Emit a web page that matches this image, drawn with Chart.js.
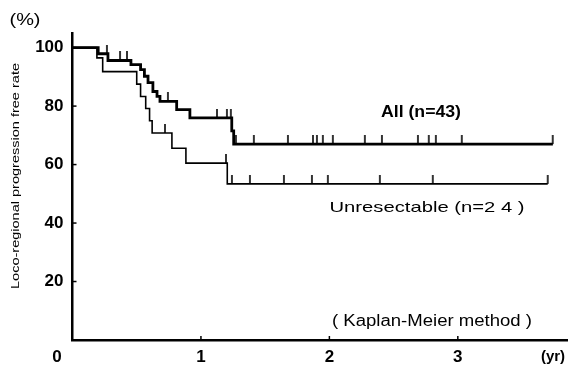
<!DOCTYPE html>
<html>
<head>
<meta charset="utf-8">
<script src="https://cdn.jsdelivr.net/npm/chart.js@4.4.0/dist/chart.umd.min.js"></script>
<style>
  html, body { margin: 0; padding: 0; background: #fff; }
</style>
</head>
<body>
<canvas id="myChart" width="584" height="371"></canvas>
<script>
// All patients (n=43): step times (yr) and rate after each step (%)
var allTimes = [0, 0.2, 0.276, 0.455, 0.53, 0.56, 0.588, 0.626, 0.658, 0.681, 0.811, 0.914, 1.24, 1.255, 3.74];
var allRate  = [100, 97.9, 95.6, 94.2, 92.5, 90.2, 88.0, 85.0, 83.3, 81.6, 78.8, 76.0, 71.5, 67.0, 67.0];
var allCensored = [0.268, 0.37, 0.424, 0.743, 1.125, 1.202, 1.233, 1.272, 1.412, 1.677, 1.872, 1.903,
                   1.949, 2.027, 2.276, 2.409, 2.689, 2.774, 2.829, 3.031, 3.739];

// Unresectable (n=24)
var unresTimes = [0, 0.19, 0.235, 0.5, 0.53, 0.57, 0.6, 0.62, 0.774, 0.883, 1.205, 3.70];
var unresRate  = [100, 96.5, 91.8, 87.5, 83.3, 79.2, 75.0, 70.8, 65.6, 60.5, 53.4, 53.4];
var unresCensored = [0.72, 1.195, 1.241, 1.381, 1.646, 1.864, 1.988, 2.393, 2.805, 3.70];

var xTicks = [1, 2, 3];
var yTicks = [20, 40, 60, 80, 100];

var fam = '"Liberation Sans", Arial, Helvetica, sans-serif';

function toPoints(ts, vs) {
    return ts.map(function (t, i) { return { x: t, y: vs[i] }; });
}
// value of the step curve at time t
function rateAt(ts, vs, t) {
    var v = vs[0];
    for (var i = 0; i < ts.length; i++) {
        if (ts[i] <= t) v = vs[i];
    }
    return v;
}
function censorPoints(cs, ts, vs) {
    return cs.map(function (t) { return { x: t, y: rateAt(ts, vs, t) }; });
}

// small upward tick used for censored cases
var tick = document.createElement('canvas');
tick.width = 4;
tick.height = 18;
var tctx = tick.getContext('2d');
tctx.strokeStyle = '#000';
tctx.lineWidth = 1.6;
tctx.beginPath();
tctx.moveTo(2, 0);
tctx.lineTo(2, 9);
tctx.stroke();

function fitText(c, text, cx, cy, w, font, rot) {
    c.save();
    c.font = font;
    c.textAlign = 'center';
    c.textBaseline = 'middle';
    c.translate(cx, cy);
    if (rot) c.rotate(rot);
    var m = c.measureText(text).width;
    if (w) c.scale(w / m, 1);
    c.fillText(text, 0, 0);
    c.restore();
}

var extras = {
    id: 'extras',
    afterDraw: function (chart) {
        var c = chart.ctx;
        var xs = chart.scales.x, ys = chart.scales.y;
        c.save();
        c.strokeStyle = '#000';
        c.fillStyle = '#000';
        c.lineWidth = 1.5;
        // inward tick marks
        yTicks.forEach(function (v) {
            var p = ys.getPixelForValue(v);
            c.beginPath(); c.moveTo(xs.left, p); c.lineTo(xs.left + 4, p); c.stroke();
        });
        xTicks.forEach(function (v) {
            var p = xs.getPixelForValue(v);
            c.beginPath(); c.moveTo(p, ys.bottom); c.lineTo(p, ys.bottom - 4); c.stroke();
        });
        c.restore();

        fitText(c, '(%)', 25, 20, 31, '17px ' + fam);
        fitText(c, 'Loco-regional progression free rate', 16, 176, 226, '11px ' + fam, -Math.PI / 2);
        fitText(c, 'All (n=43)', 421, 113, 80, 'bold 16px ' + fam);
        fitText(c, 'Unresectable (n=2 4 )', 427, 208, 195, '15px ' + fam);
        fitText(c, '( Kaplan-Meier method )', 432, 322, 200, '16px ' + fam);
        fitText(c, '0', 57, 357, 0, 'bold 17px ' + fam);
        fitText(c, '(yr)', 553, 357, 0, 'bold 15px ' + fam);
    }
};

var ctx = document.getElementById('myChart').getContext('2d');
var myChart = new Chart(ctx, {
    type: 'line',
    data: {
        datasets: [{
            label: 'All (n=43)',
            data: toPoints(allTimes, allRate),
            stepped: 'before',
            borderColor: '#000',
            borderWidth: 2.8,
            pointRadius: 0
        }, {
            label: 'Unresectable (n=24)',
            data: toPoints(unresTimes, unresRate),
            stepped: 'before',
            borderColor: '#000',
            borderWidth: 1.6,
            pointRadius: 0
        }, {
            label: 'All censored',
            data: censorPoints(allCensored, allTimes, allRate),
            showLine: false,
            pointStyle: tick,
            pointRadius: 4
        }, {
            label: 'Unresectable censored',
            data: censorPoints(unresCensored, unresTimes, unresRate),
            showLine: false,
            pointStyle: tick,
            pointRadius: 4
        }]
    },
    options: {
        responsive: false,
        animation: false,
        devicePixelRatio: 1,
        layout: { padding: { top: 33, right: 17, left: 0, bottom: 0 } },
        plugins: {
            legend: { display: false },
            tooltip: { enabled: false }
        },
        scales: {
            x: {
                type: 'linear',
                min: 0,
                max: 3.85,
                afterBuildTicks: function (s) { s.ticks = xTicks.map(function (v) { return { value: v }; }); },
                afterFit: function (s) { s.height = 31; },
                grid: { display: false, drawTicks: false },
                border: { display: true, color: '#000', width: 2.5 },
                ticks: {
                    color: '#000',
                    padding: 7,
                    maxRotation: 0,
                    autoSkip: false,
                    font: { family: fam, size: 17, weight: 'bold' }
                }
            },
            y: {
                min: 0,
                max: 105,
                afterBuildTicks: function (s) { s.ticks = yTicks.map(function (v) { return { value: v }; }); },
                afterFit: function (s) { s.width = 72.5; },
                grid: { display: false, drawTicks: false },
                border: { display: true, color: '#000', width: 2.5 },
                ticks: {
                    color: '#000',
                    padding: 9,
                    font: { family: fam, size: 17, weight: 'bold' }
                }
            }
        }
    },
    plugins: [extras]
});
</script>
</body>
</html>
